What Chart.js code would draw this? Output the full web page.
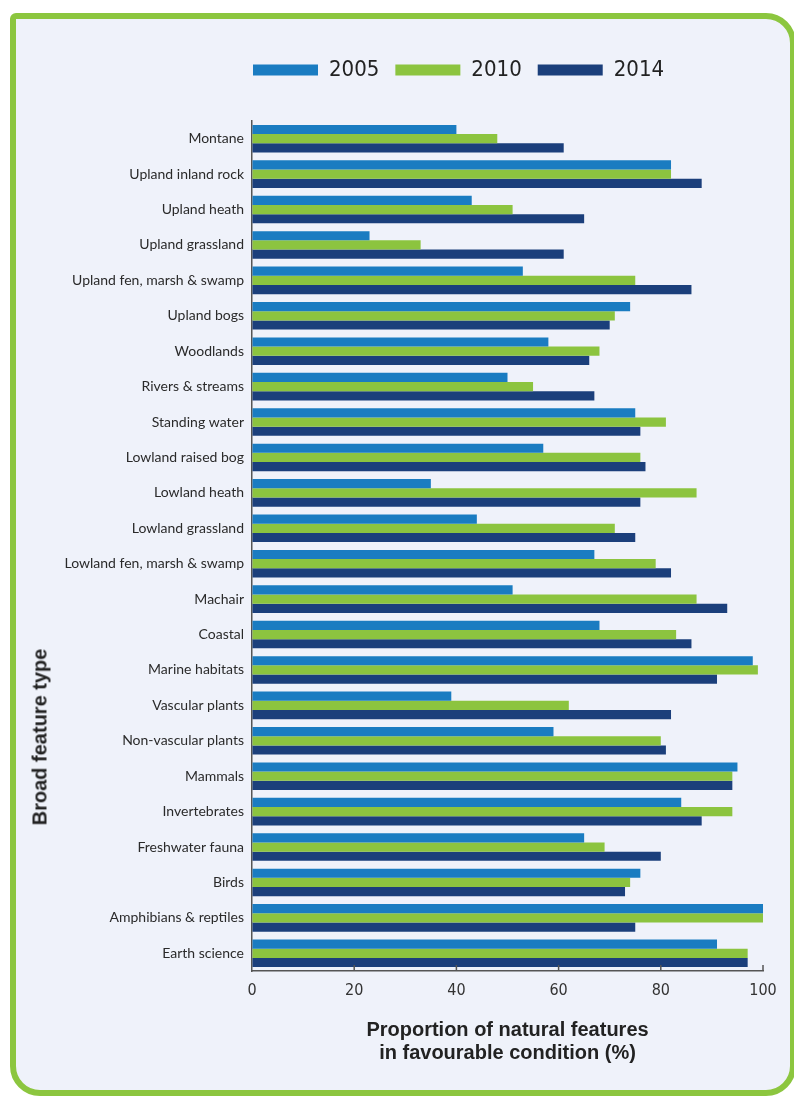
<!DOCTYPE html>
<html><head><meta charset="utf-8">
<script src="https://cdn.jsdelivr.net/npm/chart.js@4.4.0/dist/chart.umd.min.js"></script>
<style>
html,body{margin:0;padding:0;background:#fff;overflow:hidden;width:794px;height:1097px;}
#frame{position:absolute;left:10px;top:13px;width:786px;height:1083px;box-sizing:border-box;border:6px solid #8cc63f;border-radius:6px 30px 30px 30px;background:#eff2fa;}
#wrap{position:absolute;left:0;top:0;width:794px;height:1097px;}
#ytitle{position:absolute;left:40px;top:737px;transform:translate(-50%,-50%) rotate(-90deg);font:bold 20px 'Liberation Sans',Arial,sans-serif;color:#222;white-space:nowrap;}
</style></head><body>
<div id="frame"></div>
<div id="wrap"><canvas id="c" width="794" height="1097"></canvas></div>
<div id="ytitle">Broad feature type</div>
<script>
const categories = ["Montane","Upland inland rock","Upland heath","Upland grassland","Upland fen, marsh & swamp","Upland bogs","Woodlands","Rivers & streams","Standing water","Lowland raised bog","Lowland heath","Lowland grassland","Lowland fen, marsh & swamp","Machair","Coastal","Marine habitats","Vascular plants","Non-vascular plants","Mammals","Invertebrates","Freshwater fauna","Birds","Amphibians & reptiles","Earth science"];
const seriesNames = ["2005","2010","2014"];
const v2005 = [40,82,43,23,53,74,58,50,75,57,35,44,67,51,68,98,39,59,95,84,65,76,100,91];
const v2010 = [48,82,51,33,75,71,68,55,81,76,87,71,79,87,83,99,62,80,94,94,69,74,100,97];
const v2014 = [61,88,65,61,86,70,66,67,76,77,76,75,82,93,86,91,82,81,94,88,80,73,75,97];
const xTickValues = [0,20,40,60,80,100];
const xTitle = ["Proportion of natural features","in favourable condition (%)"];

const colors = ["#1a7cc1","#8cc43f","#1b3f7b"];
const NARROW = "'Liberation Sans Narrow','Arial Narrow','DejaVu Sans Condensed',sans-serif";

const legendPlace = {
  id:'legendPlace',
  beforeUpdate(chart){
    const lg = chart.legend;
    if (lg && !lg._patched){
      const f = lg.fit;
      lg.fit = function(){ f.call(this); this.height = 78; };
      lg._patched = true;
    }
  },
  afterLayout(chart){
    const lg = chart.legend;
    const w = lg.right - lg.left;
    lg.left = 237; lg.right = 237 + w;
  }
};
const innerTicks = {
  id:'innerTicks',
  afterDatasetsDraw(chart){
    const x = chart.scales.x, ctx = chart.ctx, b = chart.chartArea.bottom;
    ctx.save(); ctx.strokeStyle = '#555'; ctx.lineWidth = 1.5;
    x.ticks.forEach(t => {
      if (t.value === 0) return;
      const px = x.getPixelForValue(t.value);
      ctx.beginPath(); ctx.moveTo(px, b); ctx.lineTo(px, b - 6); ctx.stroke();
    });
    ctx.restore();
  }
};

new Chart(document.getElementById('c'), {
  type:'bar',
  data:{
    labels: categories,
    datasets:[v2005,v2010,v2014].map((d,i)=>({label:seriesNames[i],data:d,backgroundColor:colors[i],borderWidth:0,categoryPercentage:0.78,barPercentage:1.0}))
  },
  options:{
    indexAxis:'y',
    responsive:false,
    animation:false,
    devicePixelRatio:1,
    layout:{padding:{top:43,bottom:32,left:0,right:31}},
    plugins:{
      legend:{
        position:'top', align:'start',
        labels:{boxWidth:65,boxHeight:11,padding:16,color:'#222',font:{family:NARROW,size:22}}
      },
      tooltip:{enabled:false}
    },
    scales:{
      x:{
        min:0,max:100,
        afterBuildTicks:s=>{ s.ticks = xTickValues.map(v=>({value:v})); },
        afterFit:s=>{ s.height = 94; },
        grid:{display:true,drawOnChartArea:false,drawTicks:false},
        border:{display:true,color:'#555',width:1.5},
        ticks:{padding:10,color:'#333',font:{family:NARROW,size:16}},
        title:{display:true,text:xTitle,color:'#222',padding:{top:0,bottom:0},font:{family:"'Liberation Sans',Arial,sans-serif",weight:'bold',size:20,lineHeight:1.15}}
      },
      y:{
        z:1,
        afterFit:s=>{ s.width = 252; },
        grid:{display:true,drawOnChartArea:false,drawTicks:false},
        border:{display:true,color:'#555',width:1.5},
        ticks:{padding:8,color:'#2a2a2a',font:{family:"Lato,'Open Sans',sans-serif",size:14}}
      }
    }
  },
  plugins:[legendPlace,innerTicks]
});
</script>
</body></html>
